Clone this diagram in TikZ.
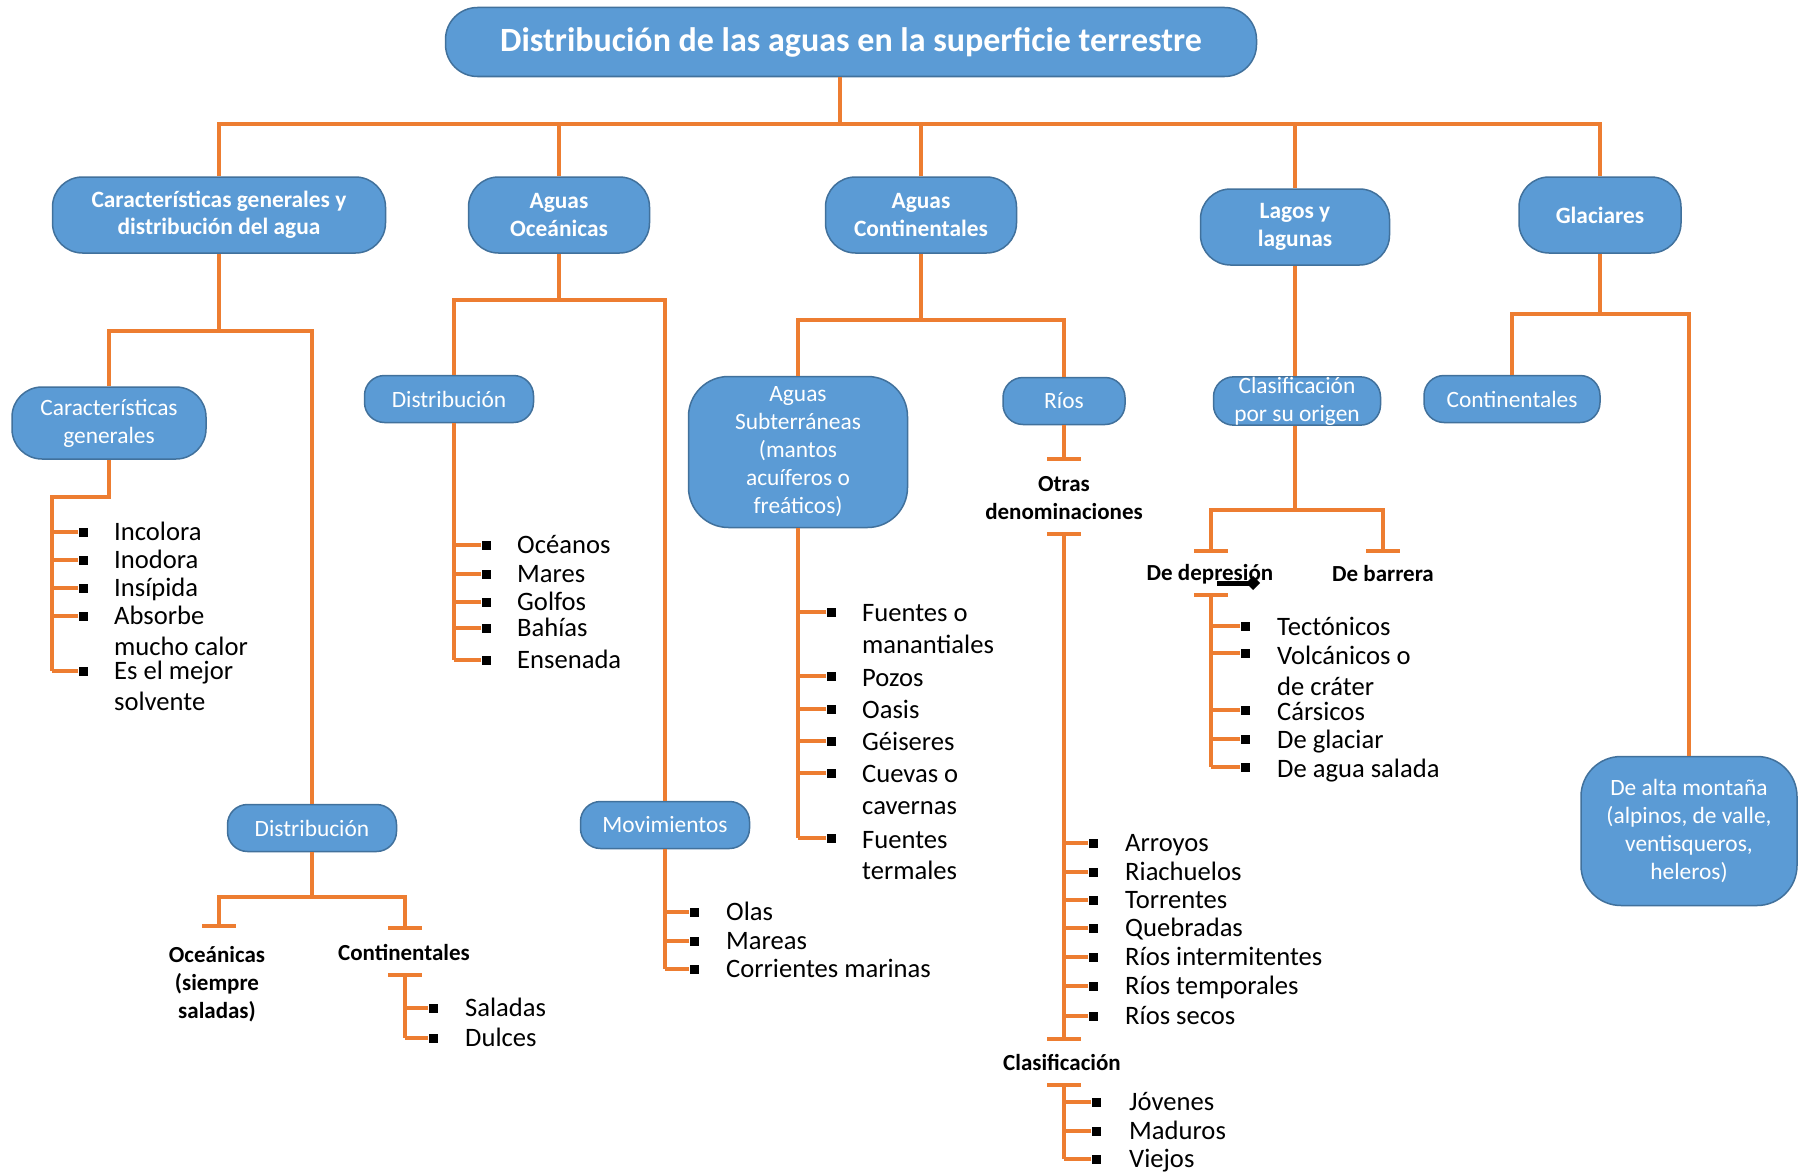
\documentclass[tikz,border=0pt]{standalone}
\usepackage{fontspec}
\setmainfont{Carlito}
\usetikzlibrary{arrows.meta}
\definecolor{boxblue}{RGB}{91,155,213}
\definecolor{boxedge}{RGB}{65,113,156}
\definecolor{treeorange}{RGB}{237,125,49}
\newcommand\mapTitle{\fontsize{34}{40}\selectfont\bfseries}
\newcommand\mapTopic{\fontsize{23.4}{27.5}\selectfont\bfseries}
\newcommand\mapBox{\fontsize{23.4}{28}\selectfont}
\newcommand\mapHead{\fontsize{23}{28}\selectfont\bfseries}
\newcommand\mapItem{\fontsize{26.6}{31}\selectfont}
\tikzset{
  conn/.style={treeorange, line width=3.5pt},
  bluebox/.style={draw=boxedge, fill=boxblue, line width=1.5pt, text=white, align=center, inner sep=0pt},
  topicbox/.style={bluebox, rounded corners=30pt, minimum height=76pt, font=\mapTopic},
  subbox/.style={bluebox, rounded corners=20pt, minimum height=47pt, font=\mapBox},
  headtext/.style={font=\mapHead, align=center, inner sep=0pt},
  itemtext/.style={font=\mapItem, anchor=west, inner sep=0pt, text height=17pt, text depth=0pt},
  bullet/.style={fill=black, minimum size=9pt, inner sep=0pt}
}

\begin{document}
\begin{tikzpicture}[x=1pt,y=-1pt]
\fill[white] (0,0) rectangle (1804,1172);
\useasboundingbox (0,0) rectangle (1804,1172);

% Title
\node[bluebox, rounded corners=32pt, minimum width=811pt, minimum height=69pt, font=\mapTitle] (title) at (851,42) {Distribución de las aguas en la superficie terrestre};

% Main branches
\node[topicbox, minimum width=333pt] (general) at (219,215) {Características generales y\\distribución del agua};
\node[topicbox, minimum width=181pt] (oceanic) at (559,215) {Aguas\\Oceánicas};
\node[topicbox, minimum width=191pt] (contin) at (921,215) {Aguas\\Continentales};
\node[topicbox, minimum width=189pt] (lakes) at (1295,227) {Lagos y\\lagunas};
\node[topicbox, minimum width=162pt] (glacier) at (1600,215) {Glaciares};

\coordinate (top) at (840,124);
\draw[conn] (title.south -| top) -- (top);
\draw[conn] (general.north) |- (top) -| (glacier.north);
\draw[conn] (oceanic.north) -- (oceanic.north |- top);
\draw[conn] (contin.north) -- (contin.north |- top);
\draw[conn] (lakes.north) -- (lakes.north |- top);

% Caracteristicas generales y distribucion
\node[bluebox, rounded corners=30pt, minimum width=194pt, minimum height=72pt, font=\mapBox] (genchar) at (109,423) {Características\\generales};
\node[subbox, minimum width=169pt] (gendist) at (312,828) {Distribución};
\coordinate (genfork) at (219,331);
\draw[conn] (general.south) -- (genfork);
\draw[conn] (genchar.north) |- (genfork) -| (gendist.north);

\coordinate (charfork) at (109,497);
\coordinate (charend) at (52,671);
\draw[conn] (genchar.south) -- (charfork) -| (charend);
\foreach \y in {532,560,588,616,671} {
  \node[bullet] (charb\y) at (83,\y) {};
  \draw[conn] (charb\y.west) -- (charb\y -| charend);
}
\foreach \y/\t in {532/Incolora,560/Inodora,588/Insípida,616/Absorbe,647/mucho calor,671/Es el mejor,702/solvente}
  \node[itemtext] (chart\y) at (114,\y) {\t};

\coordinate (distfork) at (312,897);
\coordinate (oceT) at (219,926);
\coordinate (contT) at (405,928);
\draw[conn] (gendist.south) -- (distfork);
\draw[conn] (oceT) |- (distfork) -| (contT);
\draw[conn] ([xshift=-17pt]oceT) -- ([xshift=17pt]oceT);
\draw[conn] ([xshift=-17pt]contT) -- ([xshift=17pt]contT);
\node[headtext] (oceLbl) at (217,984) {Oceánicas\\(siempre\\saladas)};
\node[headtext] (contLbl) at (404,952) {Continentales};

\coordinate (saltT) at (405,975);
\coordinate (saltEnd) at (405,1038);
\draw[conn] ([xshift=-17pt]saltT) -- ([xshift=17pt]saltT);
\draw[conn] (saltT) -- (saltEnd);
\foreach \y/\t in {1008/Saladas,1038/Dulces} {
  \node[bullet] (saltb\y) at (433,\y) {};
  \draw[conn] (saltb\y.west) -- (saltb\y -| saltEnd);
  \node[itemtext] (saltt\y) at (465,\y) {\t};
}

% Aguas oceanicas
\node[subbox, minimum width=169pt] (oceDist) at (449,399) {Distribución};
\node[subbox, minimum width=169pt] (oceMove) at (665,825) {Movimientos};
\coordinate (ocefork) at (559,300);
\coordinate (oceSpine) at (454,660);
\draw[conn] (oceanic.south) -- (ocefork);
\draw[conn] (oceDist.north -| oceSpine) |- (ocefork) -| (oceMove.north);
\draw[conn] (oceDist.south -| oceSpine) -- (oceSpine);
\foreach \y/\t in {545/Océanos,574/Mares,602/Golfos,628/Bahías,660/Ensenada} {
  \node[bullet] (seab\y) at (486,\y) {};
  \draw[conn] (seab\y.west) -- (seab\y -| oceSpine);
  \node[itemtext] (seat\y) at (517,\y) {\t};
}
\coordinate (moveEnd) at (665,969);
\draw[conn] (oceMove.south) -- (moveEnd);
\foreach \y/\t in {912/Olas,941/Mareas,969/Corrientes marinas} {
  \node[bullet] (moveb\y) at (694,\y) {};
  \draw[conn] (moveb\y.west) -- (moveb\y -| moveEnd);
  \node[itemtext] (movet\y) at (726,\y) {\t};
}

% Aguas continentales
\node[bluebox, rounded corners=40pt, minimum width=219pt, minimum height=151pt, font=\mapBox] (underground) at (798,452) {Aguas\\Subterráneas\\(mantos\\acuíferos o\\freáticos)};
\node[subbox, minimum width=122pt] (rivers) at (1064,401) {Ríos};
\coordinate (contfork) at (921,320);
\draw[conn] (contin.south) -- (contfork);
\draw[conn] (underground.north) |- (contfork) -| (rivers.north);

\coordinate (undEnd) at (798,838);
\draw[conn] (underground.south) -- (undEnd);
\foreach \y in {612,676,709,741,773,838} {
  \node[bullet] (undb\y) at (831,\y) {};
  \draw[conn] (undb\y.west) -- (undb\y -| undEnd);
}
\foreach \y/\t in {613/Fuentes o,645/manantiales,678/Pozos,710/Oasis,742/Géiseres,774/Cuevas o,806/cavernas,840/Fuentes,871/termales}
  \node[itemtext] (undt\y) at (862,\y) {\t};

\coordinate (rivT1) at (1064,459);
\coordinate (rivT2) at (1064,534);
\coordinate (rivT3) at (1064,1039);
\coordinate (rivT4) at (1064,1085);
\coordinate (ageEnd) at (1064,1159);
\draw[conn] (rivers.south) -- (rivT1);
\draw[conn] (rivT2) -- (rivT3);
\draw[conn] (rivT4) -- (ageEnd);
\foreach \c in {rivT1,rivT2,rivT3,rivT4}
  \draw[conn] ([xshift=-17pt]\c) -- ([xshift=17pt]\c);
\node[headtext] (otherLbl) at (1064,498) {Otras\\denominaciones};
\node[headtext] (classLbl) at (1062,1062) {Clasificación};
\foreach \y/\t in {843/Arroyos,872/Riachuelos,900/Torrentes,928/Quebradas,957/Ríos intermitentes,986/Ríos temporales,1016/Ríos secos} {
  \node[bullet] (rivb\y) at (1093,\y) {};
  \draw[conn] (rivb\y.west) -- (rivb\y -| rivT2);
  \node[itemtext] (rivt\y) at (1125,\y) {\t};
}
\foreach \y/\t in {1102/Jóvenes,1131/Maduros,1159/Viejos} {
  \node[bullet] (ageb\y) at (1096,\y) {};
  \draw[conn] (ageb\y.west) -- (ageb\y -| ageEnd);
  \node[itemtext] (aget\y) at (1129,\y) {\t};
}

% Lagos y lagunas
\node[subbox, minimum width=167pt] (origin) at (1297,401) {Clasificación\\por su origen};
\draw[conn] (lakes.south) -- (lakes.south |- origin.north);
\coordinate (lakefork) at (1295,510);
\coordinate (depT) at (1211,551);
\coordinate (barT) at (1383,551);
\coordinate (depT2) at (1211,595);
\coordinate (depEnd) at (1211,767);
\draw[conn] (origin.south -| lakefork) -- (lakefork);
\draw[conn] (depT) |- (lakefork) -| (barT);
\foreach \c in {depT,barT,depT2}
  \draw[conn] ([xshift=-17pt]\c) -- ([xshift=17pt]\c);
\draw[conn] (depT2) -- (depEnd);
\node[headtext] (depLbl) at (1210,574) {De depresión};
\node[headtext] (barLbl) at (1383,574) {De barrera};
\coordinate (markA) at (1217,583);
\coordinate (markB) at (1260,583);
\draw[line width=5pt, -{Diamond[length=14pt,width=14pt]}] (markA) -- (markB);
\foreach \y in {626,653,710,739,767} {
  \node[bullet] (depb\y) at (1245,\y) {};
  \draw[conn] (depb\y.west) -- (depb\y -| depEnd);
}
\foreach \y/\t in {627/Tectónicos,656/Volcánicos o,687/de cráter,712/Cársicos,740/De glaciar,769/De agua salada}
  \node[itemtext] (dept\y) at (1277,\y) {\t};

% Glaciares
\node[subbox, minimum width=176pt] (glacCont) at (1512,399) {Continentales};
\node[bluebox, rounded corners=40pt, minimum width=216pt, minimum height=149pt, font=\mapBox] (glacHigh) at (1689,831) {De alta montaña\\(alpinos, de valle,\\ventisqueros,\\heleros)};
\coordinate (glacfork) at (1600,314);
\draw[conn] (glacier.south) -- (glacfork);
\draw[conn] (glacCont.north) |- (glacfork) -| (glacHigh.north);
\end{tikzpicture}
\end{document}
